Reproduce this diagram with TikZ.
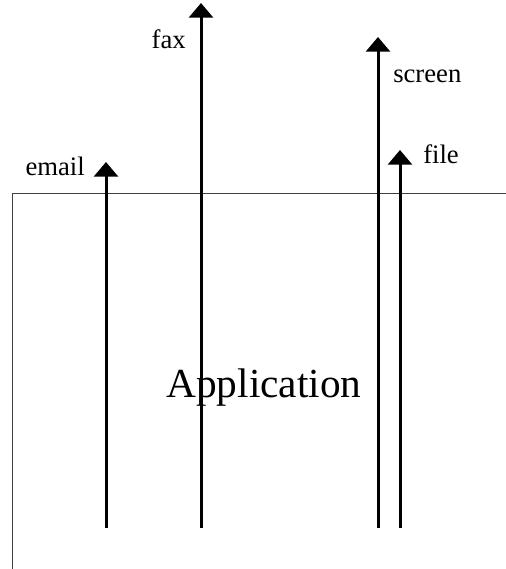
\documentclass[tikz,border=0pt]{standalone}
\usepackage{fontspec}
\setmainfont{Liberation Serif}
\usetikzlibrary{arrows.meta}

\begin{document}
\begin{tikzpicture}[x=0.75pt, y=-0.75pt,
        outflow/.style={line width=2.25pt, -{Triangle[width=18pt, length=11pt]}},
        chanlabel/.style={font=\fontsize{20}{24}\selectfont, inner sep=0pt},
        frame/.style={line width=0.75pt, black!75}]
            \useasboundingbox (0,0) rectangle (506,569);

            % application frame, open at right and bottom
            \coordinate (corner) at (12,193);
            \draw[frame] (12,569) -- (corner) -- (506,193);
            \node[font=\fontsize{31}{36}\selectfont, inner sep=0pt, anchor=base] (app) at (264,397) {Application};

            % output channels leaving the application
            \coordinate (emailfoot) at (106,528);
            \coordinate (emailtip) at (106,162);
            \coordinate (faxfoot) at (201,528);
            \coordinate (faxtip) at (201,3);
            \coordinate (screenfoot) at (378,528);
            \coordinate (screentip) at (378,37);
            \coordinate (filefoot) at (400,528);
            \coordinate (filetip) at (400,150);

            \draw[outflow] (emailfoot) -- (emailtip);
            \draw[outflow] (faxfoot) -- (faxtip);
            \draw[outflow] (screenfoot) -- (screentip);
            \draw[outflow] (filefoot) -- (filetip);

            \node[chanlabel, anchor=base east] (email) at (85,175) {email};
            \node[chanlabel, anchor=base east] (fax) at (186,48) {fax};
            \node[chanlabel, anchor=base west] (screen) at (393,82) {screen};
            \node[chanlabel, anchor=base west] (file) at (423,163) {file};
        \end{tikzpicture}
\end{document}
